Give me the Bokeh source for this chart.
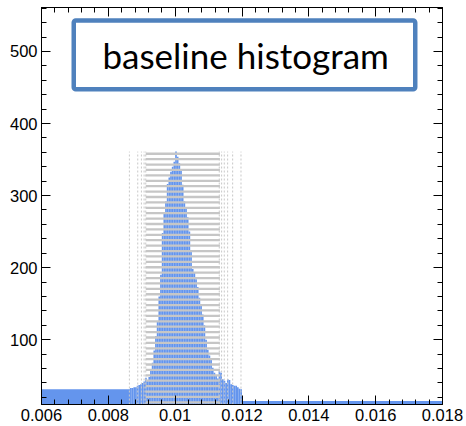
import numpy as np
from bokeh.plotting import figure
from bokeh.models import (LinearAxis, FixedTicker, BoxAnnotation, Label, Range1d,
                          ColumnDataSource, CustomJSTickFormatter)
from bokeh.embed import file_html
from bokeh.resources import INLINE

# ---------------- data ----------------
# wide side bins
wide_left_edges = [0.006, 0.00865]
wide_left_count = 31
wide_right_edges = [0.012, 0.018]
wide_right_count = 15

# fine bins (width 0.00005) from 0.00865 to 0.01200
fine_start = 0.00865
fine_width = 0.00005
fine_counts = [
    33, 33, 34, 34, 36, 37, 38, 40, 42, 47,
    44, 48, 58, 68, 85, 105, 126, 160, 190, 248,
    275, 292, 316, 325, 333, 340, 347, 361, 354, 345,
    337, 315, 292, 284, 270, 250, 222, 198, 194, 184,
    173, 158, 147, 135, 120, 100, 86, 78, 72, 61,
    54, 50, 46, 56, 54, 45, 43, 40, 45, 44,
    38, 37, 36, 36, 34, 32, 31,
]

# overlay decorations seen in the picture
stripe_x = [0.00912, 0.01134]
stripe_top = 358.0
stripe_step = 7.5
stripe_count = 47
dash_x = [0.00863, 0.00888, 0.00899, 0.00907, 0.00912,
          0.01132, 0.01139, 0.01147, 0.01157, 0.01172, 0.01197]
dash_y = [10, 361]

x_ticks = [0.006, 0.008, 0.01, 0.012, 0.014, 0.016, 0.018]
x_labels = ["0.006", "0.008", "0.01", "0.012", "0.014", "0.016", "0.018"]
y_ticks = [100, 200, 300, 400, 500]

title_text = "baseline histogram"

# ---------------- build ----------------
n = len(fine_counts)
fl = [fine_start + i * fine_width for i in range(n)]
fr = [fine_start + (i + 1) * fine_width for i in range(n)]
lefts = [wide_left_edges[0]] + fl + [wide_right_edges[0]]
rights = [wide_left_edges[1]] + fr + [wide_right_edges[1]]
tops = [wide_left_count] + fine_counts + [wide_right_count]
src = ColumnDataSource(dict(left=lefts, right=rights, top=tops, bottom=[0] * len(tops)))

p = figure(width=466, height=426, output_backend="svg", toolbar_location=None,
           x_range=Range1d(0.006, 0.018), y_range=Range1d(10, 561),
           min_border_left=41, min_border_right=24, min_border_top=7, min_border_bottom=22,
           background_fill_color="white", border_fill_color="white")
p.grid.visible = False
p.outline_line_color = "black"
p.outline_line_width = 1

p.quad(left="left", right="right", top="top", bottom="bottom", source=src,
       fill_color="#6495ED", line_color=None)

ys = [stripe_top - k * stripe_step for k in range(stripe_count)]
p.segment(x0=[stripe_x[0]] * len(ys), x1=[stripe_x[1]] * len(ys), y0=ys, y1=ys,
          line_color="#c6c6c6", line_width=2.3)

p.segment(x0=dash_x, x1=dash_x, y0=[dash_y[0]] * len(dash_x), y1=[dash_y[1]] * len(dash_x),
          line_color="#c8c8c8", line_width=1, line_dash="2 2")

x_minor = [0.006 + 0.0004 * i for i in range(31)]
y_minor = [20 * i for i in range(1, 29)]

def style(ax, ticks, minor, labels=True, overrides=None):
    ax.ticker = FixedTicker(ticks=ticks, minor_ticks=minor)
    ax.major_tick_in = 9
    ax.major_tick_out = 0
    ax.minor_tick_in = 5
    ax.minor_tick_out = 0
    ax.axis_line_color = "black"
    ax.major_tick_line_color = "black"
    ax.minor_tick_line_color = "black"
    if labels:
        ax.major_label_text_font = "Liberation Sans"
        ax.major_label_text_font_size = "16.5px"
        ax.major_label_text_color = "black"
        ax.major_label_standoff = 4
        if overrides:
            ax.major_label_overrides = overrides
    else:
        ax.formatter = CustomJSTickFormatter(code="return '';")
        ax.major_label_standoff = 0

style(p.xaxis[0], x_ticks, x_minor, overrides={t: l for t, l in zip(x_ticks, x_labels)})
style(p.yaxis[0], y_ticks, y_minor)

top_ax = LinearAxis()
style(top_ax, x_ticks, x_minor, labels=False)
p.add_layout(top_ax, "above")
right_ax = LinearAxis()
style(right_ax, y_ticks, y_minor, labels=False)
p.add_layout(right_ax, "right")

box = BoxAnnotation(left=0.006965, right=0.017184, top=543, bottom=447.4,
                    fill_color="white", fill_alpha=1.0,
                    line_color="#4f81bd", line_width=4.5, line_alpha=1.0,
                    border_radius=2)
p.add_layout(box)
lab = Label(x=0.01211, y=495, text=title_text, text_align="center", text_baseline="middle",
            text_font="Lato", text_font_size="35px", text_color="black")
p.add_layout(lab)

open("out.html", "w").write(file_html(p, INLINE))
